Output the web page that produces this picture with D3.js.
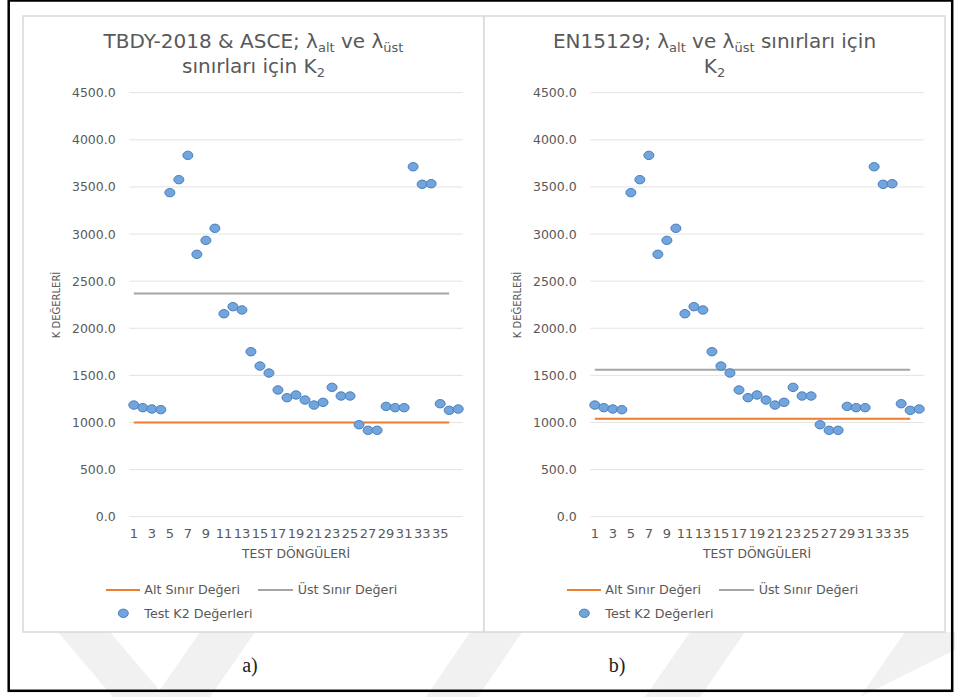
<!DOCTYPE html>
<html>
<head>
<meta charset="utf-8">
<script src="https://cdn.jsdelivr.net/npm/d3@7"></script>
<style>
  body { margin: 0; background: #fff; }
  svg { display: block; }
  text { font-family: "DejaVu Sans", sans-serif; fill: #595959; }
</style>
</head>
<body>
<svg id="chart" width="955" height="697"></svg>
<script>
// test cycles (categories)
const cycles = [1, 2, 3, 4, 5, 6, 7, 8, 9, 10, 11, 12, 13, 14, 15, 16, 17, 18, 19,
  20, 21, 22, 23, 24, 25, 26, 27, 28, 29, 30, 31, 32, 33, 34, 35, 36, 37];
// measured K2 values for each cycle
const k2Values = [1185, 1157, 1143, 1136, 3439, 3577, 3835, 2785, 2933, 3061,
  2154, 2229, 2194, 1751, 1599, 1525, 1345, 1263, 1292, 1238,
  1185, 1214, 1373, 1281, 1281, 976, 917, 917, 1171, 1157,
  1157, 3714, 3528, 3534, 1199, 1129, 1143];
// limit lines span cycles 1..36
const limitCycles = [1, 36];
const altLimits = [1000, 1040];   // Alt Sınır Değeri, panel a / b
const ustLimits = [2370, 1560];   // Üst Sınır Değeri, panel a / b
const xTickLabels = ["1", "3", "5", "7", "9", "11", "13", "15", "17", "19", "21",
  "23", "25", "27", "29", "31", "33", "35"];
const yTicks = [0, 500, 1000, 1500, 2000, 2500, 3000, 3500, 4000, 4500];
const panelTags = ["a)", "b)"];

const svg = d3.select("#chart");

// faint watermark stripes behind the charts
const stripes = [
  [[58, 632], [110, 632], [165, 697], [113, 697]],
  [[200, 632], [255, 632], [210, 697], [155, 697]],
  [[470, 632], [522, 632], [478, 697], [426, 697]],
  [[690, 632], [745, 632], [700, 697], [645, 697]],
  [[905, 632], [955, 632], [955, 650], [860, 697], [860, 697]]
];
svg.selectAll("polygon.wm")
  .data(stripes)
  .enter()
  .append("polygon")
  .attr("class", "wm")
  .attr("points", d => d.map(p => p.join(",")).join(" "))
  .attr("fill", "#f1f1f1");

function titleLines(g, cx, lines) {
  lines.forEach((parts, li) => {
    const t = g.append("text")
      .attr("x", cx)
      .attr("y", 48 + li * 25)
      .attr("text-anchor", "middle")
      .attr("font-size", "20px");
    let shift = 0;
    parts.forEach(p => {
      if (typeof p === "object") {
        t.append("tspan").attr("font-size", "13px").attr("dy", 4 - shift).text(p.sub);
        shift = 4;
      } else {
        const s = t.append("tspan").text(p);
        if (shift) s.attr("dy", -shift);
        shift = 0;
      }
    });
  });
}

function drawPanel(i, left, title) {
  const g = svg.append("g");
  const panelW = 461;
  g.append("rect")
    .attr("x", left).attr("y", 16)
    .attr("width", panelW).attr("height", 616)
    .attr("fill", "#fff")
    .attr("stroke", "#d9d9d9")
    .attr("stroke-width", 1.5);

  const plotLeft = left + 106.3;
  const plotRight = plotLeft + 333.4;
  const x = d3.scaleBand().domain(cycles).range([plotLeft, plotRight]);
  const cx = d => x(d) + x.bandwidth() / 2;
  const y = d3.scaleLinear().domain([0, 4500]).range([516.7, 92.7]);

  titleLines(g, left + panelW / 2, title);

  // gridlines
  g.selectAll("line.grid")
    .data(yTicks)
    .enter()
    .append("line")
    .attr("x1", plotLeft).attr("x2", plotRight)
    .attr("y1", d => y(d)).attr("y2", d => y(d))
    .attr("stroke", "#e3e3e3")
    .attr("stroke-width", 1);

  // y axis labels
  const yAxis = d3.axisLeft(y).tickValues(yTicks).tickFormat(d3.format(".1f")).tickSize(0).tickPadding(13.6);
  const ya = g.append("g").attr("transform", `translate(${plotLeft},0)`).call(yAxis);
  ya.select(".domain").remove();
  ya.selectAll("text")
    .attr("font-size", "12.5px")
    .attr("font-family", "DejaVu Sans")
    .attr("fill", "#595959");

  // x axis labels
  const xa = g.append("g").attr("transform", "translate(0,516.7)")
    .call(d3.axisBottom(x).tickValues(xTickLabels.map(Number)).tickSize(0).tickPadding(0));
  xa.select(".domain").remove();
  xa.selectAll("text")
    .attr("font-size", "13px")
    .attr("font-family", "DejaVu Sans")
    .attr("fill", "#595959")
    .attr("dy", null)
    .attr("y", 21);

  // axis titles
  g.append("text")
    .attr("x", (plotLeft + plotRight) / 2).attr("y", 558.3)
    .attr("text-anchor", "middle")
    .attr("font-size", "12.3px")
    .text("TEST DÖNGÜLERİ");
  g.append("text")
    .attr("transform", `translate(${plotLeft - 72.6},305) rotate(-90)`)
    .attr("text-anchor", "middle")
    .attr("dy", "0.35em")
    .attr("font-size", "10px")
    .text("K DEĞERLERİ");

  // limit lines
  const limLine = d3.line().x(d => cx(d[0])).y(d => y(d[1]));
  g.append("path")
    .attr("d", limLine(limitCycles.map(c => [c, ustLimits[i]])))
    .attr("stroke", "#a5a5a5").attr("stroke-width", 2).attr("fill", "none");
  g.append("path")
    .attr("d", limLine(limitCycles.map(c => [c, altLimits[i]])))
    .attr("stroke", "#ed7d31").attr("stroke-width", 2).attr("fill", "none");

  // K2 points
  g.selectAll("ellipse.pt")
    .data(cycles)
    .enter()
    .append("ellipse")
    .attr("class", "pt")
    .attr("cx", d => cx(d))
    .attr("cy", (d, j) => y(k2Values[j]))
    .attr("rx", 5).attr("ry", 4.2)
    .attr("fill", "#72a5dc")
    .attr("stroke", "#4a7fbf")
    .attr("stroke-width", 1);

  // legend
  const lg = g.append("g").attr("transform", `translate(${left},0)`);
  lg.append("line").attr("x1", 83).attr("x2", 117).attr("y1", 590).attr("y2", 590)
    .attr("stroke", "#ed7d31").attr("stroke-width", 2);
  lg.append("text").attr("x", 121.3).attr("y", 590).attr("dy", "0.35em")
    .attr("font-size", "12.7px").text("Alt Sınır Değeri");
  lg.append("line").attr("x1", 235).attr("x2", 270).attr("y1", 590).attr("y2", 590)
    .attr("stroke", "#a5a5a5").attr("stroke-width", 2);
  lg.append("text").attr("x", 274.7).attr("y", 590).attr("dy", "0.35em")
    .attr("font-size", "12.7px").text("Üst Sınır Değeri");
  lg.append("ellipse").attr("cx", 100.3).attr("cy", 613.3).attr("rx", 5).attr("ry", 4.2)
    .attr("fill", "#72a5dc").attr("stroke", "#4a7fbf").attr("stroke-width", 1);
  lg.append("text").attr("x", 121.3).attr("y", 613.3).attr("dy", "0.35em")
    .attr("font-size", "12.7px").text("Test K2 Değerleri");
}

drawPanel(0, 23, [
  ["TBDY-2018 & ASCE; λ", {sub: "alt"}, " ve λ", {sub: "üst"}],
  ["sınırları için K", {sub: "2"}]
]);
drawPanel(1, 484, [
  ["EN15129; λ", {sub: "alt"}, " ve λ", {sub: "üst"}, " sınırları için"],
  ["K", {sub: "2"}]
]);

// panel tags
svg.selectAll("text.tag")
  .data(panelTags)
  .enter()
  .append("text")
  .attr("class", "tag")
  .attr("x", (d, i) => [250, 617][i])
  .attr("y", 672)
  .attr("text-anchor", "middle")
  .attr("font-size", "20px")
  .style("font-family", "'Liberation Serif', serif")
  .style("fill", "#222")
  .text(d => d);

// outer frame
svg.append("rect")
  .attr("x", 8.7).attr("y", 0.5)
  .attr("width", 943.5).attr("height", 690.3)
  .attr("fill", "none")
  .attr("stroke", "#000")
  .attr("stroke-width", 2.5);
</script>
</body>
</html>
